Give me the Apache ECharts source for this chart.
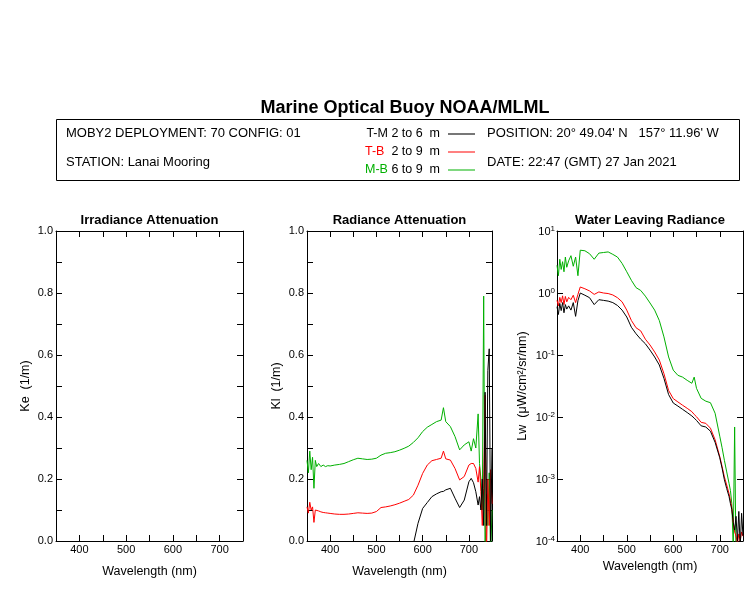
<!DOCTYPE html>
<html>
<head>
<meta charset="utf-8">
<script src="https://cdn.jsdelivr.net/npm/echarts@6/dist/echarts.min.js"></script>
<style>
html,body{margin:0;padding:0;background:#fff;}
#chart{width:750px;height:600px;}
</style>
</head>
<body>
<div id="chart"></div>
<script>
// ---- data ----
const wavelength = [350,353,356,359,362,365,368,371,375,380,385,390,395,400,410,420,430,440,450,460,470,480,490,500,510,520,530,540,550,560,570,580,590,600,610,620,630,640,645,650,660,670,680,690,700,705,710,715,720,723,726,729,732,735,738,741,744,747,750];

const seriesNames = ['T-M','T-B','M-B'];
const seriesDesc = ['T-M 2 to 6  m','T-B  2 to 9  m','M-B 6 to 9  m'];

// Radiance attenuation Kl (1/m)
const klTM = [null,null,null,null,null,null,null,null,null,null,null,null,null,null,null,null,null,null,null,null,null,null,null,null,null,null,null,null,null,null,null,-0.01,0.057,0.105,0.124,0.143,0.152,0.159,0.160,0.165,0.170,0.138,0.108,0.132,0.191,0.202,0.188,0.159,0.116,0.143,0.100,0.200,0.050,0.480,0.050,0.550,0.620,0.000,0.300];
const klTB = [0.110,0.090,0.125,0.100,0.110,0.060,0.100,0.095,0.097,0.094,0.092,0.091,0.090,0.089,0.087,0.086,0.086,0.087,0.089,0.091,0.090,0.089,0.090,0.095,0.108,0.110,0.113,0.117,0.122,0.128,0.134,0.148,0.180,0.218,0.245,0.259,0.263,0.267,0.290,0.265,0.261,0.234,0.197,0.208,0.245,0.250,0.250,0.234,0.190,0.240,0.160,0.050,0.170,0.470,-0.050,0.200,0.050,0.230,0.120];
const klMB = [0.260,0.220,0.290,0.230,0.270,0.170,0.260,0.240,0.250,0.240,0.245,0.240,0.243,0.242,0.245,0.247,0.250,0.256,0.262,0.267,0.265,0.263,0.264,0.267,0.277,0.283,0.285,0.288,0.293,0.299,0.306,0.318,0.333,0.353,0.367,0.376,0.385,0.390,0.430,0.385,0.369,0.337,0.294,0.310,0.320,0.290,0.330,0.300,0.410,0.250,0.200,0.100,0.790,-0.050,0.150,0.050,0.220,-0.050,0.100];

// Water leaving radiance Lw (uW/cm^2/sr/nm)
const lwTM = [0.60,0.45,0.68,0.52,0.70,0.48,0.65,0.55,0.62,0.53,0.70,0.42,0.75,1.00,0.92,0.84,0.65,0.78,0.76,0.74,0.70,0.63,0.53,0.41,0.28,0.22,0.18,0.152,0.12,0.093,0.069,0.042,0.023,0.0168,0.015,0.0133,0.0118,0.0104,0.0096,0.0088,0.0072,0.0069,0.0059,0.0039,0.0022,0.0015,0.00097,0.0007,0.00052,0.0004,0.00032,0.0002,0.00015,0.00025,0.0001,0.0003,0.00008,0.00028,0.00012];
const lwTB = [0.76,0.62,0.85,0.70,0.90,0.65,0.88,0.72,0.85,0.78,0.92,0.70,0.95,1.25,1.17,1.08,0.95,1.04,1.00,0.98,0.93,0.84,0.72,0.53,0.36,0.275,0.245,0.18,0.145,0.112,0.083,0.05,0.0268,0.0198,0.0175,0.0155,0.0138,0.0122,0.011,0.0101,0.0082,0.0079,0.0066,0.0043,0.0023,0.0016,0.00108,0.0008,0.00058,0.00045,0.00034,0.0002,0.00014,0.00012,0.00009,0.00013,0.0001,0.00014,0.00012];
const lwMB = [2.8,1.9,3.5,2.4,3.2,2.2,3.8,2.6,3.3,4.0,2.7,3.8,1.9,4.9,4.8,4.3,3.5,4.4,4.5,4.6,4.2,3.8,3.0,2.2,1.6,1.22,1.1,0.89,0.69,0.53,0.36,0.196,0.093,0.057,0.047,0.044,0.039,0.035,0.044,0.029,0.020,0.018,0.017,0.0115,0.0049,0.0032,0.0020,0.0013,0.00085,0.00065,0.0004,0.00008,0.0069,0.00005,null,null,null,null,null];

// Irradiance attenuation Ke: no data in this deployment
const keTM = [];
const keTB = [];
const keMB = [];

const xTicks = [400,500,600,700];
const panelTitles = ['Irradiance Attenuation','Radiance Attenuation','Water Leaving Radiance'];
const headerLeft = ['MOBY2 DEPLOYMENT: 70 CONFIG: 01','STATION: Lanai Mooring'];
const headerRight = ['POSITION: 20\u00b0 49.04\' N   157\u00b0 11.96\' W','DATE: 22:47 (GMT) 27 Jan 2021'];
const mainTitle = 'Marine Optical Buoy NOAA/MLML';

// ---- chart ----
const FONT = '"Liberation Sans", Arial, Helvetica, sans-serif';
const colors = ['#000000','#ff0000','#00b000'];
const legendColors = ['#777777','#ff8080','#80d880'];

function pairs(vals){ return wavelength.map((w,i)=>[w, vals[i] === undefined ? null : vals[i]]); }

const grids = [
  {left:56, right:507, top:231, bottom:59},
  {left:307, right:258, top:231, bottom:59},
  {left:557, right:7, top:231, bottom:59}
];

const axisLineStyle = {color:'#000', width:1};
const xAxes = [], yAxes = [];
grids.forEach((g,i)=>{
  xAxes.push({
    type:'value', gridIndex:i, min:350, max:750, interval:50, position:'bottom',
    axisLine:{show:true, onZero:false, lineStyle:axisLineStyle},
    axisTick:{show:true, inside:true, length:6, lineStyle:axisLineStyle},
    splitLine:{show:false},
    axisLabel:{show:true, margin:3, color:'#000', fontSize:11, fontFamily:FONT,
      formatter:v => xTicks.indexOf(v) >= 0 ? String(v) : ''},
    name:'Wavelength (nm)', nameLocation:'middle', nameGap: i===2 ? 7 : 24,
    nameTextStyle:{color:'#000', fontSize:12.5, fontFamily:FONT, verticalAlign:'top'}
  });
  xAxes.push({
    type:'value', gridIndex:i, min:350, max:750, interval:50, position:'top',
    axisLine:{show:true, onZero:false, lineStyle:axisLineStyle},
    axisTick:{show:true, inside:true, length:6, lineStyle:axisLineStyle},
    splitLine:{show:false}, axisLabel:{show:false}
  });
  if (i < 2) {
    yAxes.push({
      type:'value', gridIndex:i, min:0, max:1, interval:0.1, position:'left',
      axisLine:{show:true, onZero:false, lineStyle:axisLineStyle},
      axisTick:{show:true, inside:true, length:6, lineStyle:axisLineStyle},
      splitLine:{show:false},
      axisLabel:{show:true, margin:3, color:'#000', fontSize:11, fontFamily:FONT,
        formatter:v => (Math.round(v*10) % 2 === 0) ? v.toFixed(1) : ''},
      name: i===0 ? 'Ke  (1/m)' : 'Kl  (1/m)', nameLocation:'middle', nameGap:24, nameRotate:90,
      nameTextStyle:{color:'#000', fontSize:12.5, fontFamily:FONT}
    });
    yAxes.push({
      type:'value', gridIndex:i, min:0, max:1, interval:0.1, position:'right',
      axisLine:{show:true, onZero:false, lineStyle:axisLineStyle},
      axisTick:{show:true, inside:true, length:6, lineStyle:axisLineStyle},
      splitLine:{show:false}, axisLabel:{show:false}
    });
  } else {
    const supFmt = v => { const e = Math.round(Math.log10(v)); return '{b|10}{s|' + e + '}'; };
    yAxes.push({
      type:'log', logBase:10, gridIndex:i, min:1e-4, max:10, splitNumber:5, position:'left',
      axisLine:{show:true, onZero:false, lineStyle:axisLineStyle},
      axisTick:{show:true, inside:true, length:6, lineStyle:axisLineStyle},
      splitLine:{show:false},
      axisLabel:{show:true, margin:2, color:'#000', fontFamily:FONT, formatter:supFmt,
        rich:{
          b:{fontSize:11, fontFamily:FONT, color:'#000', lineHeight:13, verticalAlign:'bottom'},
          s:{fontSize:8, fontFamily:FONT, color:'#000', lineHeight:8, verticalAlign:'top'}
        }},
      name:'Lw  (\u03bcW/cm\u00b2/sr/nm)', nameLocation:'middle', nameGap:28, nameRotate:90,
      nameTextStyle:{color:'#000', fontSize:12.5, fontFamily:FONT}
    });
    yAxes.push({
      type:'log', logBase:10, gridIndex:i, min:1e-4, max:10, splitNumber:5, position:'right',
      axisLine:{show:true, onZero:false, lineStyle:axisLineStyle},
      axisTick:{show:true, inside:true, length:6, lineStyle:axisLineStyle},
      splitLine:{show:false}, axisLabel:{show:false}
    });
  }
});

function lineSeries(name, idx, panel, vals){
  return {
    name:name, type:'line', xAxisIndex:panel*2, yAxisIndex:panel*2,
    data:pairs(vals), showSymbol:false, symbol:'none', connectNulls:false, clip:true,
    lineStyle:{color:colors[idx], width:1}, itemStyle:{color:colors[idx]},
    animation:false, z: 10 - idx
  };
}

const series = [
  lineSeries('M-B',2,0,keMB), lineSeries('T-B',1,0,keTB), lineSeries('T-M',0,0,keTM),
  lineSeries('M-B',2,1,klMB), lineSeries('T-B',1,1,klTB), lineSeries('T-M',0,1,klTM),
  lineSeries('M-B',2,2,lwMB), lineSeries('T-B',1,2,lwTB), lineSeries('T-M',0,2,lwTM)
];

const titleCenters = [149.5, 399.5, 650];
const titles = [{
  text:mainTitle, left:405, top:99, textAlign:'center',
  textStyle:{fontSize:18, fontWeight:'bold', color:'#000', fontFamily:FONT}, padding:0
}];
panelTitles.forEach((t,i)=>titles.push({
  text:t, left:titleCenters[i], top:214, textAlign:'center', padding:0,
  textStyle:{fontSize:13, fontWeight:'bold', color:'#000', fontFamily:FONT}
}));

const option = {
  backgroundColor:'#fff',
  animation:false,
  title:titles,
  grid:grids.map(g=>Object.assign({containLabel:false}, g)),
  xAxis:xAxes,
  yAxis:yAxes,
  legend:{
    orient:'vertical', left:365, top:127, padding:0, itemGap:4, align:'right',
    icon:'rect', itemWidth:27, itemHeight:2, selectedMode:false,
    data:seriesNames.map((n,i)=>({name:n, itemStyle:{color:legendColors[i]}})),
    formatter:n => {
      const i = seriesNames.indexOf(n);
      const key = ['k0','k1','k2'][i];
      return '{' + key + '|' + n + '}{v|' + seriesDesc[i].slice(3) + '}';
    },
    textStyle:{color:'#000', fontSize:12.5, fontFamily:FONT, lineHeight:14,
      rich:{
        k0:{color:'#000', fontSize:12.5, fontFamily:FONT},
        k1:{color:'#ff0000', fontSize:12.5, fontFamily:FONT},
        k2:{color:'#00b000', fontSize:12.5, fontFamily:FONT},
        v:{color:'#000', fontSize:12.5, fontFamily:FONT, padding:[0,3,0,0]}
      }}
  },
  graphic:[
    {type:'rect', shape:{x:56.5, y:119.5, width:683, height:61}, style:{fill:'none', stroke:'#000', lineWidth:1}, silent:true},
    {type:'text', left:66, top:127, style:{text:headerLeft[0], fontSize:13, fontFamily:FONT, fill:'#000'}},
    {type:'text', left:66, top:156, style:{text:headerLeft[1], fontSize:13, fontFamily:FONT, fill:'#000'}},
    {type:'text', left:487, top:127, style:{text:headerRight[0], fontSize:13, fontFamily:FONT, fill:'#000'}},
    {type:'text', left:487, top:156, style:{text:headerRight[1], fontSize:13, fontFamily:FONT, fill:'#000'}}
  ],
  series:series
};

const chart = echarts.init(document.getElementById('chart'), null, {renderer:'canvas'});
chart.setOption(option);
</script>
</body>
</html>
